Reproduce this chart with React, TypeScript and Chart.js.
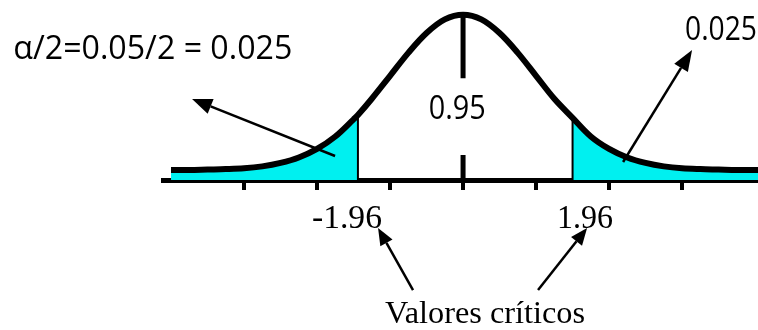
import { useEffect, useRef } from "react";
import { Chart, registerables } from "chart.js";

Chart.register(...registerables);

// z positions (in drawn standard-deviation units) and curve heights
const X_VALUES = [
  -4, -3.75, -3.5, -3.25, -3, -2.75, -2.5, -2.25, -2, -1.75, -1.5, -1.44, -1.25, -1, -0.75, -0.5, -0.25,
  0, 0.25, 0.5, 0.75, 1, 1.25, 1.5, 1.75, 2, 2.25, 2.5, 2.75, 3, 3.25, 3.5, 3.75, 4, 4.25,
];
const CURVE_VALUES = [
  0.026, 0.026, 0.027, 0.028, 0.03, 0.035, 0.044, 0.058, 0.08, 0.112, 0.156, 0.167, 0.209, 0.268, 0.327, 0.378, 0.413,
  0.425, 0.413, 0.378, 0.327, 0.268, 0.209, 0.16, 0.112, 0.08, 0.058, 0.044, 0.035, 0.03, 0.028, 0.027, 0.026, 0.026, 0.026,
];
const TICK_VALUES = [-3, -2, -1, 0, 1, 2, 3];
const CRITICAL_X = [-1.44, 1.5];
const CRITICAL_LABELS = ["-1.96", "1.96"];
const CENTER_LABEL = "0.95";
const LEFT_TAIL_LABEL = "α/2=0.05/2 = 0.025";
const RIGHT_TAIL_LABEL = "0.025";
const CAPTION = "Valores críticos";

const X_MIN = -4.11;
const X_MAX = 4.04;
const Y_MAX = 0.463;

const CYAN = "#00F0F0";
const SANS = "Open Sans";
const SERIF = "Liberation Serif";

function curveAt(x: number): number {
  const i = X_VALUES.indexOf(x);
  return CURVE_VALUES[i];
}

const annotationPlugin = {
  id: "annotations",
  afterDraw(chart: any) {
    const ctx: CanvasRenderingContext2D = chart.ctx;
    const xs = chart.scales.x;
    const ys = chart.scales.y;
    const px = (v: number) => xs.getPixelForValue(v);
    const py = (v: number) => ys.getPixelForValue(v);

    const text = (
      str: string,
      x: number,
      y: number,
      font: string,
      width: number,
      align: CanvasTextAlign
    ) => {
      ctx.save();
      ctx.font = font;
      ctx.fillStyle = "#000";
      ctx.textBaseline = "middle";
      ctx.textAlign = align;
      const w = ctx.measureText(str).width;
      ctx.translate(x, y);
      ctx.scale(width / w, 1);
      ctx.fillText(str, 0, 0);
      ctx.restore();
    };

    const arrow = (x1: number, y1: number, x2: number, y2: number, head: number, half: number) => {
      const ang = Math.atan2(y2 - y1, x2 - x1);
      const bx = x2 - head * Math.cos(ang);
      const by = y2 - head * Math.sin(ang);
      ctx.save();
      ctx.strokeStyle = "#000";
      ctx.fillStyle = "#000";
      ctx.lineWidth = 2.5;
      ctx.beginPath();
      ctx.moveTo(x1, y1);
      ctx.lineTo(bx, by);
      ctx.stroke();
      ctx.beginPath();
      ctx.moveTo(x2, y2);
      ctx.lineTo(bx + half * Math.sin(ang), by - half * Math.cos(ang));
      ctx.lineTo(bx - half * Math.sin(ang), by + half * Math.cos(ang));
      ctx.closePath();
      ctx.fill();
      ctx.restore();
    };

    // tail / centre labels
    text(LEFT_TAIL_LABEL, px(-6.16), py(0.335), `32px "${SANS}"`, 279, "left");
    text(CENTER_LABEL, px(-0.08), py(0.18), `33px "${SANS}"`, 57, "center");
    text(RIGHT_TAIL_LABEL, px(3.04), py(0.384), `33px "${SANS}"`, 72, "left");

    // critical values
    text(CRITICAL_LABELS[0], px(-1.59), py(-0.1), `34px "${SERIF}"`, 70, "center");
    text(CRITICAL_LABELS[1], px(1.67), py(-0.1), `34px "${SERIF}"`, 56, "center");
    text(CAPTION, px(0.3), py(-0.345), `32px "${SERIF}"`, 200, "center");

    // arrows
    arrow(px(-1.753), py(0.0618), px(-3.712), py(0.2085), 20, 8);
    arrow(px(2.192), py(0.0463), px(3.137), py(0.3345), 21, 8);
    arrow(px(-0.685), py(-0.283), px(-1.164), py(-0.1235), 17, 7);
    arrow(px(1.027), py(-0.283), px(1.699), py(-0.1235), 17, 7);
  },
};

export default function App() {
  const canvasRef = useRef<HTMLCanvasElement | null>(null);

  useEffect(() => {
    if (!canvasRef.current) return;
    const points = X_VALUES.map((x, i) => ({ x, y: CURVE_VALUES[i] }));
    const leftTail = points.filter((p) => p.x <= CRITICAL_X[0]);
    const rightTail = points.filter((p) => p.x >= CRITICAL_X[1]);
    const peak = curveAt(0);

    const chart = new Chart(canvasRef.current, {
      type: "line",
      data: {
        datasets: [
          {
            data: points,
            borderColor: "#000",
            borderWidth: 6,
            pointRadius: 0,
            tension: 0.35,
            fill: false,
            order: 0,
          },
          {
            data: leftTail,
            borderColor: "transparent",
            borderWidth: 0,
            backgroundColor: CYAN,
            pointRadius: 0,
            tension: 0.35,
            fill: "origin",
            order: 5,
          },
          {
            data: rightTail,
            borderColor: "transparent",
            borderWidth: 0,
            backgroundColor: CYAN,
            pointRadius: 0,
            tension: 0.35,
            fill: "origin",
            order: 5,
          },
          ...CRITICAL_X.map((c) => ({
            data: [
              { x: c, y: 0 },
              { x: c, y: curveAt(c) },
            ],
            borderColor: "#000",
            borderWidth: 2,
            pointRadius: 0,
            tension: 0,
            fill: false,
            order: 1,
          })),
          {
            data: [
              { x: 0, y: 0 },
              { x: 0, y: 0.064 },
              { x: 0, y: null },
              { x: 0, y: 0.262 },
              { x: 0, y: peak },
            ],
            borderColor: "#000",
            borderWidth: 5,
            pointRadius: 0,
            tension: 0,
            spanGaps: false,
            fill: false,
            order: 1,
          },
        ],
      },
      options: {
        animation: false,
        responsive: false,
        devicePixelRatio: 1,
        layout: { padding: { left: 163, right: 0, top: 0, bottom: 140 } },
        plugins: {
          legend: { display: false },
          tooltip: { enabled: false },
        },
        scales: {
          x: {
            type: "linear",
            position: "bottom",
            min: X_MIN,
            max: X_MAX,
            z: 1,
            afterBuildTicks: (axis: any) => {
              axis.ticks = TICK_VALUES.map((v) => ({ value: v }));
            },
            ticks: { display: false },
            grid: {
              drawOnChartArea: false,
              drawTicks: true,
              tickLength: 10,
              lineWidth: 4,
              color: "#000",
            },
            border: { display: true, color: "#000", width: 5 },
          },
          y: {
            display: false,
            min: 0,
            max: Y_MAX,
          },
        },
      },
      plugins: [annotationPlugin],
    } as any);

    return () => chart.destroy();
  }, []);

  return (
    <div style={{ position: "fixed", left: 0, top: 0, width: 758, height: 330, background: "#fff" }}>
      <canvas ref={canvasRef} width={758} height={330} />
    </div>
  );
}
